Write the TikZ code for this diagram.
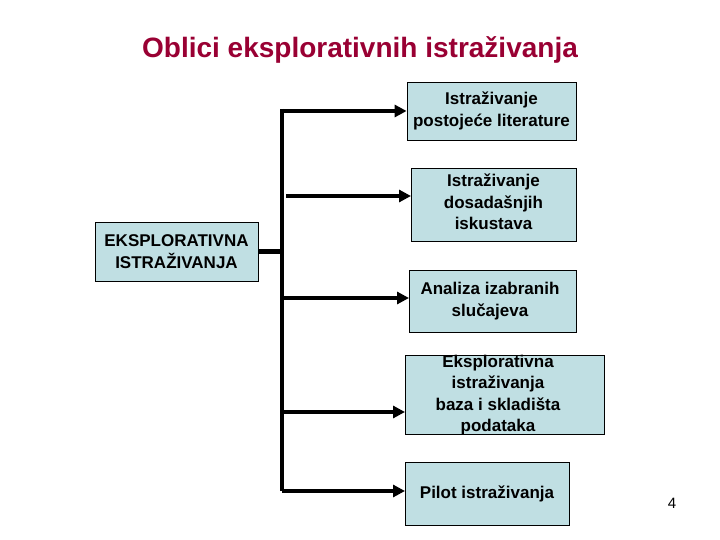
\documentclass[tikz,border=0pt]{standalone}
\usepackage{fontspec}
\setmainfont{Liberation Sans}
\usetikzlibrary{arrows.meta}
\begin{document}
\begin{tikzpicture}[x=1pt,y=-1pt,
  bx/.style={draw=black,fill=boxc,line width=0.8pt,align=center,font=\bfseries\fontsize{17}{21.5}\selectfont,inner sep=0pt},
  tx/.style={align=center,font=\bfseries\fontsize{17}{21.5}\selectfont,inner sep=0pt},
  ar/.style={line width=4.5pt,-{Triangle[length=12pt,width=12pt]}},
  ln/.style={line width=4.5pt}]
\definecolor{boxc}{HTML}{C0DFE3}
\definecolor{titc}{HTML}{990033}
\useasboundingbox (0,0) rectangle (720,540);
\node[font=\bfseries\fontsize{28}{32}\selectfont,text=titc] (title) at (360,50) {Oblici eksplorativnih istraživanja};
\node[bx,minimum width=163pt,minimum height=59pt] (L) at (176.5,251.5) {EKSPLORATIVNA\\ISTRAŽIVANJA};
\node[bx,minimum width=169pt,minimum height=58pt] (b1) at (491.5,111) {Istraživanje\\postojeće literature};
\node[bx,minimum width=165pt,minimum height=73pt,anchor=north west] (b2) at (411,168) {};
\node[tx,anchor=north] (t2) at (493.5,174) {Istraživanje\\dosadašnjih\\iskustava};
\node[bx,minimum width=167pt,minimum height=62pt,anchor=north west] (b3) at (409,270) {};
\node[tx,anchor=north] (t3) at (490,282) {Analiza izabranih\\slučajeva};
\node[bx,minimum width=199pt,minimum height=79pt,anchor=north west] (b4) at (405,355) {};
\node[tx] (t4) at (498,395) {Eksplorativna\\istraživanja\\baza i skladišta\\podataka};
\node[bx,minimum width=164pt,minimum height=63pt,anchor=north west] (b5) at (405,462) {};
\node[tx] (t5) at (487,494) {Pilot istraživanja};
\node[font=\fontsize{15}{17}\selectfont] (pg) at (672,503) {4};
\coordinate (top) at (282,111);
\coordinate (bot) at (282,491);
\draw[ln] (L.east) -- (L.east -| top);
\draw[ln] (bot) -- (top);
\draw[ar,line join=miter] ([yshift=2pt]top) -- (top) -- (top -| b1.west);
\draw[ar] (286,196) coordinate (s2) -- (s2 -| b2.west);
\draw[ar] (282,298) coordinate (s3) -- (s3 -| b3.west);
\draw[ar] (282,412) coordinate (s4) -- (s4 -| b4.west);
\draw[ar] (bot) -- (bot -| b5.west);
\end{tikzpicture}
\end{document}
